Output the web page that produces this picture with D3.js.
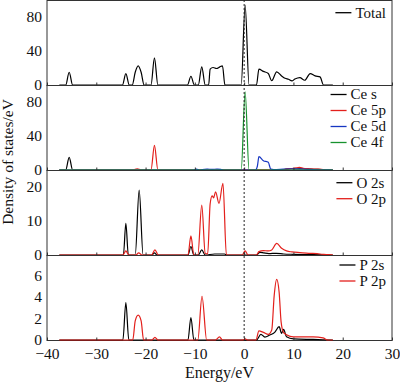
<!DOCTYPE html>
<html>
<head>
<meta charset="utf-8">
<script src="https://cdn.jsdelivr.net/npm/d3@7"></script>
<style>
  body { margin: 0; background: #fff; }
  svg { display: block; font-family: "Liberation Serif", "Times New Roman", serif; }
</style>
</head>
<body>
<script>

// Energy axis ticks
const energyTicks = [-40, -30, -20, -10, 0, 10, 20, 30];

// DOS curves, [energy eV, states/eV]
const totalDos = [[-37.5,0],[-36.2,0],[-35.5,15],[-34.8,0],[-24.7,0],[-24.0,13.5],[-23.3,0],
  [-22.7,0],[-22.1,15],[-21.5,22.5],[-20.9,15],[-20.3,0],[-18.9,0],[-18.2,32],[-17.5,0],
  [-11.5,0],[-10.8,10.3],[-10.1,0],[-9.3,0],[-8.6,21.4],[-7.9,0],[-7.2,0],[-6.9,18.7],[-6.3,20.6],
  [-5.6,19.4],[-5.0,21],[-4.4,22.6],[-3.9,0],[-0.6,0],[0.2,94],[1.0,0],[2.5,0],[3.0,18.7],
  [3.9,16],[4.9,13.5],[5.6,5],[6.6,15.5],[7.6,10.7],[8.3,7.9],[9.0,6.7],[9.7,4.8],[10.3,7],
  [11.3,8.7],[12.3,5.6],[13.4,13.5],[14.4,10.7],[15.4,9.5],[16.1,0],[18,0]];

const ceS = [[-37.5,0],[-36.2,0],[-35.5,14.8],[-34.8,0],[7.5,0],[8.5,1],[9.5,1.5],[10.5,1.2],
  [12,1.5],[13.5,1],[15,0.8],[16.5,0],[18,0]];
const ce5p = [[-37.5,0],[-22.5,0],[-21.7,1.5],[-20.9,0],[-18.9,0],[-18.2,29],[-17.5,0],
  [7.5,0],[8.5,1],[9.5,1.5],[10.5,2.5],[11.2,3],[12,2],[13,1.5],[14,1.2],[15,1],[16,0.5],[17,0],[18,0]];
const ce5d = [[-37.5,0],[-10.3,0],[-9.7,1],[-9.1,0],[-8.5,0.6],[-7.5,1],[-6.5,0.8],[-5.5,1],
  [-4.6,0.5],[-4,0],[2.3,0],[2.7,5],[3.0,15.7],[3.9,11],[4.9,9],[5.4,1],[6,0.5],[8,1],
  [10,1.5],[12,1],[14,0.5],[16,0.2],[18,0]];
const ce4f = [[-37.5,0],[-0.6,0],[0.2,92],[1.0,0],[18,0]];

const o2s = [[-37.5,0],[-24.5,0],[-24.0,9.3],[-23.5,0],[-22.1,0],[-21.3,19.1],[-20.5,0],
  [-18.7,0],[-18.2,0.6],[-17.7,0],[-11.4,0],[-10.8,2.5],[-10.2,0],[-9.3,0],[-8.6,1.5],[-7.9,0],
  [-6,0.3],[-4,0.3],[-3.5,0],[2.5,0],[3.2,0.8],[4,0.6],[5,0.4],[6.5,0.5],[8,0.3],[10,0.2],
  [14,0.1],[18,0]];
const o2p = [[-37.5,0],[-24.6,0],[-24.0,1.2],[-23.4,0],[-22,0],[-21.4,0.6],[-20.7,0],
  [-18.8,0],[-18.1,1.5],[-17.4,0],[-11.4,0],[-10.8,5.6],[-10.2,0],[-9.4,0],[-8.6,14.7],
  [-7.9,0.5],[-7.4,0.3],[-6.9,15],[-6.5,17.4],[-6.2,16.8],[-5.8,18.6],[-5.1,15.2],[-4.3,21.1],
  [-3.6,0],[-0.4,0],[0.2,1.2],[0.8,0],[2.5,0],[3.0,1],[3.9,1.3],[4.9,1.2],[5.6,1.5],[6.6,3.4],
  [7.6,2],[8.6,1.2],[9.7,0.9],[11.3,0.7],[13.4,0.5],[15.4,0.3],[17,0.1],[18,0]];

const p2s = [[-37.5,0],[-24.6,0],[-24.0,3.53],[-23.4,0],[-11.4,0],[-10.8,2.12],[-10.2,0],
  [2.5,0],[3.4,0.53],[4.2,0.28],[5.2,0.47],[6.2,0.72],[7.1,1.25],[7.6,0.63],[8.0,1.0],
  [8.6,0.3],[10,0.1],[14,0.05],[18,0]];
const p2p = [[-37.5,0],[-22.6,0],[-22.1,1.8],[-21.5,2.34],[-20.9,1.8],[-20.4,0],[-18.7,0],
  [-18.1,0.25],[-17.5,0],[-9.4,0],[-8.55,4.12],[-7.6,0],[-5.8,0],[-5.0,0.3],[-4.4,0],[-0.3,0],
  [0.2,0.1],[0.7,0],[2.4,0],[3.0,0.85],[3.9,0.72],[4.9,0.53],[5.6,0.94],[6.1,4.2],[6.6,5.7],
  [7.1,4.5],[7.5,1.7],[8.0,0.7],[8.6,0.5],[10,0.3],[12,0.3],[14,0.3],[16,0.2],[17,0],[18,0]];

const panelMax = [100, 100, 25, 8];
const panelTicks = [[0, 40, 80], [0, 40, 80], [0, 10, 20], [0, 2, 4, 6]];
const panelNames = [["Total"], ["Ce s", "Ce 5p", "Ce 5d", "Ce 4f"], ["O 2s", "O 2p"], ["P 2s", "P 2p"]];
const panelSeries = [[totalDos], [ceS, ce5p, ce5d, ce4f], [o2s, o2p], [p2s, p2p]];
const panelColors = [["#000"], ["#000", "#e3201c", "#1636c2", "#17922e"], ["#000", "#e3201c"], ["#000", "#e3201c"]];

// layout
const W = 400, H = 383;
const plotLeft = 47, plotRight = 392, plotTop = 0, panelH = 85;
const legendTop = [12.7, 9.5, 12.7, 10];

const svg = d3.select("body").append("svg")
    .attr("width", W)
    .attr("height", H);

const x = d3.scaleLinear().domain([-40, 30]).range([plotLeft, plotRight]);

const line = (y) => d3.line()
    .x(d => x(d[0]))
    .y(d => y(d[1]))
    .curve(d3.curveMonotoneX);

panelSeries.forEach((series, p) => {
    const y0 = plotTop + p * panelH;
    const y = d3.scaleLinear().domain([0, panelMax[p]]).range([y0 + panelH, y0]);
    const g = svg.append("g");

    // frame
    g.append("rect")
        .attr("x", plotLeft).attr("y", y0 + 0.5)
        .attr("width", plotRight - plotLeft).attr("height", panelH)
        .attr("fill", "none").attr("stroke", "#333").attr("stroke-width", 1);

    // curves
    series.forEach((s, i) => {
        g.append("path")
            .datum(s)
            .attr("d", line(y))
            .attr("fill", "none")
            .attr("stroke", panelColors[p][i])
            .attr("stroke-width", 1.2)
            .attr("stroke-linejoin", "round");
    });

    // y axis
    const ya = g.append("g")
        .attr("transform", "translate(" + plotLeft + ",0)")
        .call(d3.axisLeft(y).tickValues(panelTicks[p]).tickSize(0).tickPadding(5));
    ya.select(".domain").remove();
    ya.selectAll("text")
        .attr("font-size", 15.5)
        .attr("font-family", "Liberation Serif")
        .attr("fill", "#111")
        .attr("dy", "0.28em");

    // x ticks, inward
    const xa = g.append("g")
        .attr("transform", "translate(0," + (y0 + panelH + 0.5) + ")")
        .call(d3.axisBottom(x).tickValues(energyTicks).tickSizeInner(-3).tickSizeOuter(0).tickPadding(7)
            .tickFormat(p === 3 ? d3.format("") : () => ""));
    xa.select(".domain").remove();
    xa.selectAll("line").attr("stroke", "#333");
    xa.selectAll("text").attr("font-size", 15.5).attr("font-family", "Liberation Serif").attr("fill", "#111");

    // legend
    const lg = g.append("g");
    const items = lg.selectAll("g")
        .data(panelNames[p])
        .join("g")
        .attr("transform", (d, i) => "translate(0," + (y0 + legendTop[p] + i * 16) + ")");
    items.append("line")
        .attr("x1", 0).attr("x2", 16)
        .attr("stroke", (d, i) => panelColors[p][i])
        .attr("stroke-width", 1.3);
    items.append("text")
        .attr("x", 20).attr("dy", "0.33em")
        .attr("font-size", 15)
        .attr("fill", "#111")
        .text(d => d);
    const maxW = d3.max(items.selectAll("text").nodes(), n => n.getComputedTextLength());
    lg.attr("transform", "translate(" + (386 - 20 - maxW) + ",0)");
});

// Fermi level
svg.append("line")
    .attr("x1", x(0)).attr("x2", x(0))
    .attr("y1", plotTop).attr("y2", plotTop + 4 * panelH)
    .attr("stroke", "#222").attr("stroke-width", 1)
    .attr("stroke-dasharray", "2,2");

// axis titles
svg.append("text")
    .attr("x", (plotLeft + plotRight) / 2).attr("y", 378)
    .attr("text-anchor", "middle")
    .attr("font-size", 16)
    .attr("fill", "#111")
    .text("Energy/eV");

svg.append("text")
    .attr("transform", "translate(13,162) rotate(-90)")
    .attr("text-anchor", "middle")
    .attr("font-size", 15.5)
    .attr("fill", "#111")
    .text("Density of states/eV");

</script>
</body>
</html>
